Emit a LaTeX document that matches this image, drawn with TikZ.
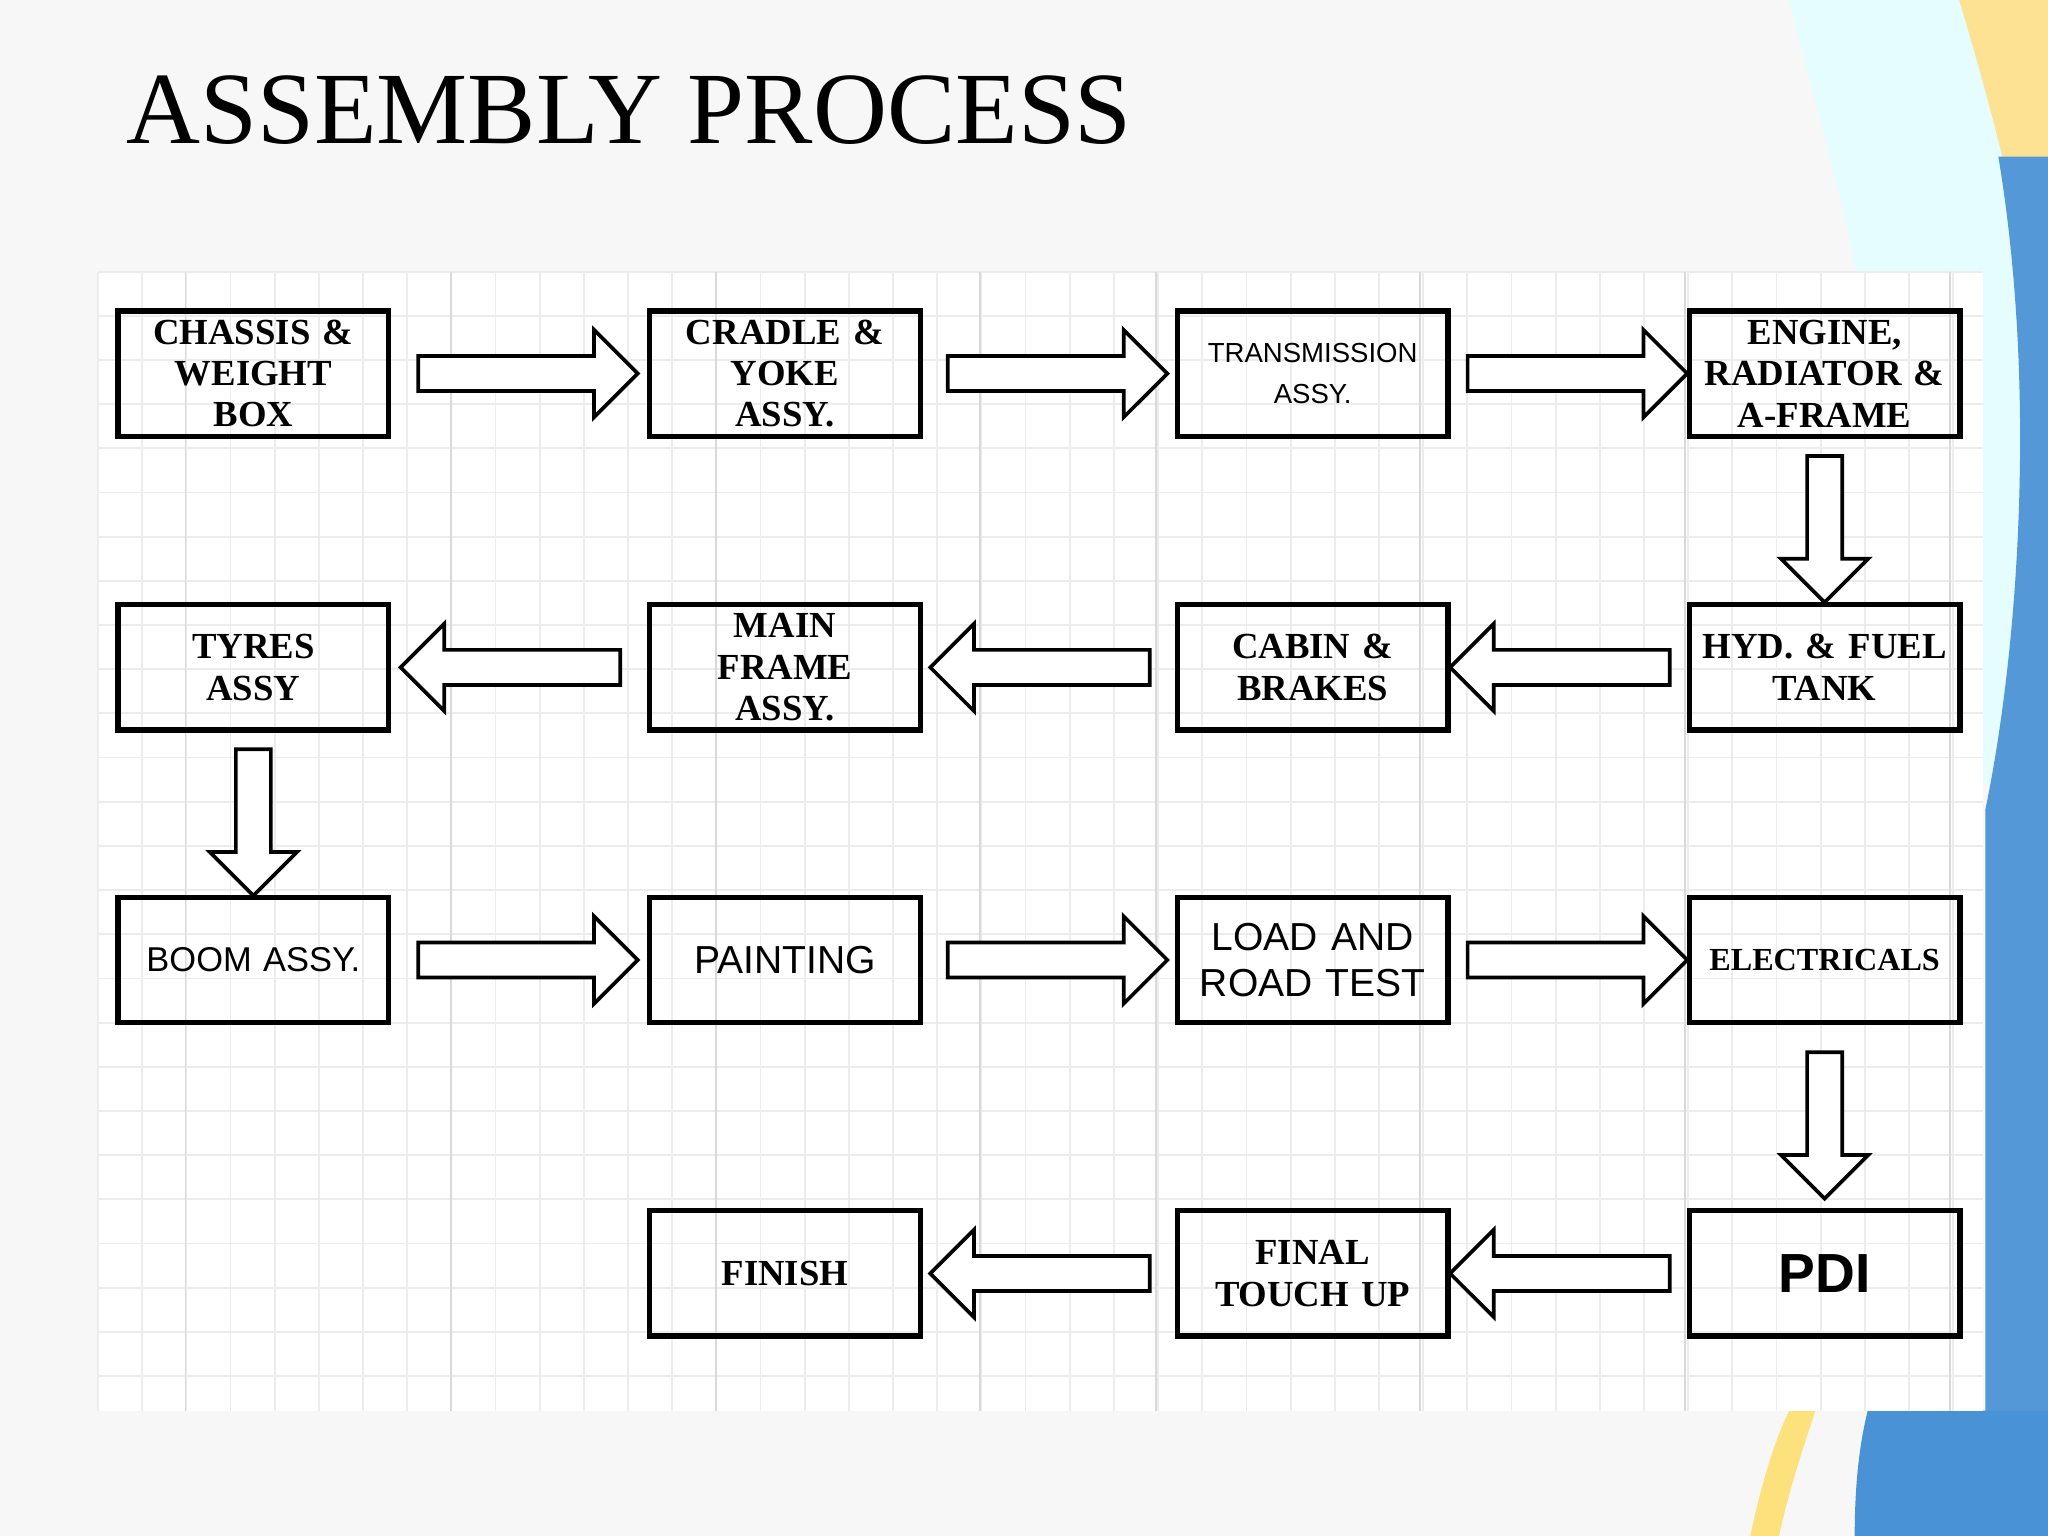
\documentclass[tikz,border=0pt]{standalone}
\usepackage{fontspec}
\setmainfont{Liberation Serif}
\setsansfont{Liberation Sans}
\usetikzlibrary{shapes.arrows,calc}
\begin{document}
\begin{tikzpicture}[x=0.01cm,y=-0.01cm,
  stepbox/.style={draw,line width=1.2pt,minimum width=2.05cm,text width=2cm,minimum height=0.96cm,inner sep=1pt,align=center,font=\fontsize{8}{9}\selectfont\bfseries},
  sbox/.style={stepbox,font=\sffamily\fontsize{8.5}{10}\selectfont},
  blk/.style={single arrow,draw,line width=0.8pt,fill=white,minimum height=1.68cm,inner sep=0pt,single arrow head extend=0.2cm,single arrow tip angle=90,anchor=center}]
\useasboundingbox (0,0) rectangle (1568,1176);
\fill[gray!6] (0,0) rectangle (1568,1176);
% decoration
\fill[blue!8!cyan!10] (1370,0) .. controls (1420,200) and (1460,300) .. (1440,600) -- (1568,600) -- (1568,0) -- cycle;
\fill[yellow!50!orange!40] (1500,0) .. controls (1560,200) and (1568,300) .. (1568,350) -- (1568,0) -- cycle;
\fill[cyan!60!blue!70] (1530,120) .. controls (1560,300) and (1545,500) .. (1520,620) -- (1520,1176) -- (1568,1176) -- (1568,120) -- cycle;
\fill[yellow!60!orange!50] (1340,1176) .. controls (1350,1130) and (1360,1100) .. (1370,1080) -- (1390,1080) .. controls (1380,1110) and (1370,1140) .. (1362,1176) -- cycle;
\fill[cyan!60!blue!75] (1420,1176) .. controls (1420,1130) and (1425,1100) .. (1430,1080) -- (1568,1080) -- (1568,1176) -- cycle;
% panel
\fill[white] (75,208) rectangle (1518,1080);
\begin{scope}[shift={(75,208)}]
\draw[gray!15,line width=0.4pt,step=0.338cm] (0,0) grid (1443,872);
\end{scope}
\foreach \x in {142,345,548,750,885,1087,1290,1493}{\draw[gray!30] (\x,208)--(\x,1080);}
\node[anchor=base west,inner sep=0pt,font=\fontsize{22.3}{24}\selectfont] (title) at (96,110) {ASSEMBLY PROCESS};
% boxes
\node[stepbox] (a1) at (194,286) {CHASSIS \&\\WEIGHT\\BOX};
\node[stepbox] (a2) at (601,286) {CRADLE \&\\YOKE\\ASSY.};
\node[sbox,font=\sffamily\fontsize{6}{9}\selectfont] (a3) at (1005,286) {TRANSMISSION\\ASSY.};
\node[stepbox] (a4) at (1397,286) {ENGINE,\\RADIATOR \&\\A-FRAME};
\node[stepbox] (b4) at (1397,511) {HYD. \& FUEL\\TANK};
\node[stepbox] (b3) at (1005,511) {CABIN \&\\BRAKES};
\node[stepbox] (b2) at (601,511) {MAIN\\FRAME\\ASSY.};
\node[stepbox] (b1) at (194,511) {TYRES\\ASSY};
\node[sbox,font=\sffamily\fontsize{7.5}{10}\selectfont] (c1) at (194,735) {BOOM ASSY.};
\node[sbox] (c2) at (601,735) {PAINTING};
\node[sbox] (c3) at (1005,735) {LOAD AND\\ROAD TEST};
\node[stepbox,font=\fontsize{7}{9}\selectfont\bfseries] (c4) at (1397,735) {ELECTRICALS};
\node[sbox,font=\sffamily\bfseries\fontsize{12}{14}\selectfont] (d4) at (1397,975) {PDI};
\node[stepbox] (d3) at (1005,975) {FINAL\\TOUCH UP};
\node[stepbox] (d2) at (601,975) {FINISH};
% arrows
\def\sh{\hbox to 0.24cm{\vrule width 0pt height 0.24cm\hfil}}
\node[blk] (r1) at ($(a1.east)!0.5!(a2.west)$) {\sh};
\node[blk] (r2) at ($(a2.east)!0.5!(a3.west)$) {\sh};
\node[blk] (r3) at ($(a3.east)!0.5!(a4.west)$) {\sh};
\node[blk,shape border rotate=270,minimum height=1.12cm] (v1) at ($(a4.south)!0.5!(b4.north)$) {\sh};
\node[blk,shape border rotate=180] (l1) at ($(b4.west)!0.5!(b3.east)$) {\sh};
\node[blk,shape border rotate=180] (l2) at ($(b3.west)!0.5!(b2.east)$) {\sh};
\node[blk,shape border rotate=180] (l3) at ($(b2.west)!0.5!(b1.east)$) {\sh};
\node[blk,shape border rotate=270,minimum height=1.12cm] (v2) at ($(b1.south)!0.5!(c1.north)$) {\sh};
\node[blk] (r4) at ($(c1.east)!0.5!(c2.west)$) {\sh};
\node[blk] (r5) at ($(c2.east)!0.5!(c3.west)$) {\sh};
\node[blk] (r6) at ($(c3.east)!0.5!(c4.west)$) {\sh};
\node[blk,shape border rotate=270,minimum height=1.12cm] (v3) at ($(c4.south)!0.5!(d4.north)$) {\sh};
\node[blk,shape border rotate=180] (l4) at ($(d4.west)!0.5!(d3.east)$) {\sh};
\node[blk,shape border rotate=180] (l5) at ($(d3.west)!0.5!(d2.east)$) {\sh};
\end{tikzpicture}
\end{document}
